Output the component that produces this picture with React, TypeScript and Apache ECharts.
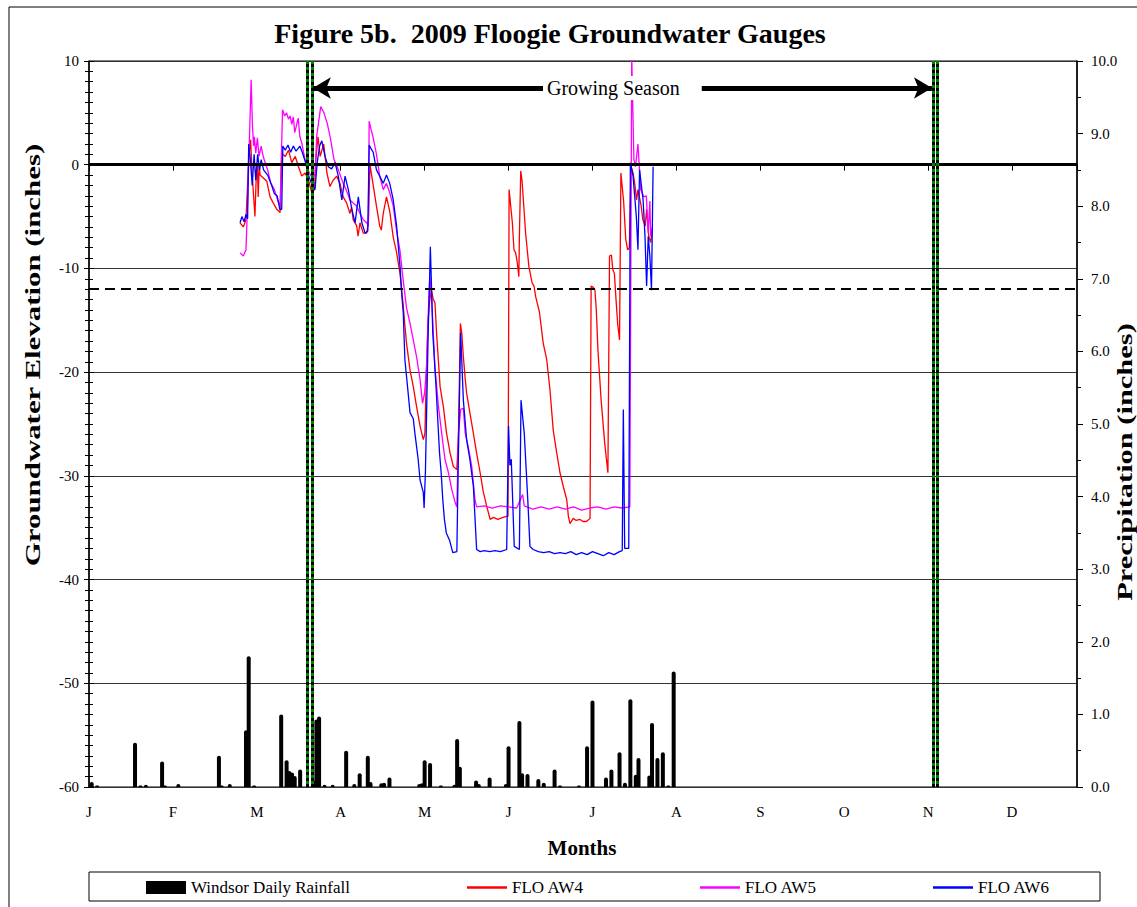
import React, { useEffect, useRef } from 'react';
import * as echarts from 'echarts';

const FONT = '"Liberation Serif", "Times New Roman", serif';

const monthLabels = ['J', 'F', 'M', 'A', 'M', 'J', 'J', 'A', 'S', 'O', 'N', 'D'];

// day of year (Jan 1 = 0) for daily rainfall, inches
const rainDays = [1, 3, 17, 19, 21, 27, 28, 33, 48, 49, 52, 58, 59, 61, 71, 73, 74, 75, 76, 78, 83, 84, 85, 87, 90, 95, 98, 100, 103, 104, 108, 109, 111, 122, 123, 124, 126, 130, 135, 136, 137, 143, 144, 148, 154, 155, 159, 160, 162, 166, 168, 172, 174, 181, 184, 186, 191, 193, 196, 198, 200, 202, 203, 207, 208, 210, 212, 214, 216];
const rainInches = [0.07, 0.02, 0.61, 0.02, 0.03, 0.35, 0.02, 0.04, 0.43, 0.02, 0.04, 0.78, 1.8, 0.02, 1.0, 0.37, 0.22, 0.2, 0.15, 0.24, 0.09, 0.93, 0.97, 0.03, 0.03, 0.5, 0.04, 0.19, 0.43, 0.07, 0.05, 0.06, 0.13, 0.04, 0.05, 0.37, 0.33, 0.02, 0.03, 0.66, 0.28, 0.09, 0.04, 0.13, 0.04, 0.56, 0.91, 0.19, 0.18, 0.11, 0.06, 0.24, 0.02, 0.02, 0.56, 1.19, 0.13, 0.24, 0.48, 0.06, 1.21, 0.17, 0.4, 0.16, 0.88, 0.4, 0.48, 0.02, 1.59];

// groundwater elevation (inches), [day of year, value]
const aw4 = [[55.8,-5.6],[57.0,-6.0],[58.0,-5.3],[59.0,0.5],[59.7,2.4],[60.3,-1.0],[61.3,-5.0],[61.8,-1.0],[62.2,0.0],[62.5,-3.1],[62.9,0.0],[63.2,-1.0],[64.5,-1.3],[65.7,-1.6],[66.9,-3.1],[68.1,-3.7],[69.4,-4.3],[70.6,-4.6],[71.2,1.1],[72.5,0.8],[73.7,1.4],[74.9,0.2],[76.2,0.8],[77.4,-0.2],[78.6,-1.1],[79.8,-0.8],[81.1,-1.5],[82.3,-2.7],[83.3,-2.4],[83.8,0.5],[84.6,2.7],[85.4,0.8],[86.7,2.0],[87.9,-0.8],[89.0,-2.1],[90.2,-1.5],[91.5,-1.1],[92.7,-1.8],[93.9,-3.1],[95.2,-3.7],[96.4,-4.7],[97.0,-4.1],[97.6,-5.3],[98.9,-5.9],[99.4,-6.9],[100.1,-5.6],[101.3,-6.6],[102.6,-6.6],[103.2,-5.6],[103.8,0.0],[105.0,-2.0],[106.2,-4.0],[107.4,-5.9],[108.0,-6.3],[108.7,-4.7],[109.9,-3.1],[111.1,-4.5],[112.4,-7.0],[113.6,-8.4],[114.9,-10.5],[116.1,-13.6],[116.7,-15.5],[117.3,-17.2],[118.6,-19.8],[119.8,-21.4],[121.0,-23.3],[122.3,-25.2],[123.5,-26.5],[124.1,-25.9],[124.7,-19.5],[125.3,-14.9],[125.9,-13.0],[126.5,-12.1],[127.2,-13.0],[127.8,-13.3],[128.4,-16.2],[129.7,-21.4],[130.9,-23.3],[132.1,-25.9],[133.4,-27.8],[134.6,-29.1],[135.9,-29.4],[136.5,-25.9],[137.2,-15.3],[137.7,-16.2],[138.3,-18.5],[139.0,-20.7],[139.5,-22.0],[140.7,-23.9],[142.0,-25.9],[143.2,-27.8],[144.5,-29.7],[145.7,-31.6],[146.9,-32.9],[148.2,-34.2],[149.4,-34.0],[151.0,-34.2],[153.0,-34.0],[154.3,-33.9],[154.8,-33.9],[155.2,-2.4],[156.4,-5.6],[157.0,-8.2],[157.6,-8.5],[158.2,-9.4],[158.8,-10.8],[159.0,-6.9],[159.5,-0.6],[160.0,-1.6],[160.7,-4.3],[161.3,-6.6],[161.9,-8.2],[162.5,-9.8],[163.7,-11.4],[164.4,-11.7],[165.0,-12.7],[166.4,-14.2],[167.8,-17.2],[169.1,-18.8],[170.3,-21.7],[171.5,-25.6],[172.8,-27.8],[174.0,-29.7],[175.2,-31.0],[176.5,-32.3],[177.1,-33.9],[177.7,-34.6],[178.9,-34.1],[180.0,-34.3],[181.4,-34.2],[182.5,-34.4],[183.8,-34.4],[185.1,-34.1],[185.5,-11.7],[186.2,-11.8],[186.9,-12.1],[187.4,-13.9],[188.0,-17.8],[189.2,-22.7],[190.5,-26.8],[191.7,-29.7],[192.3,-8.8],[193.0,-8.7],[193.5,-10.1],[194.1,-10.5],[194.7,-13.0],[195.3,-15.3],[196.0,-16.9],[196.5,-0.8],[197.5,-3.5],[198.3,-7.2],[199.0,-8.2],[199.6,-8.0],[200.3,-0.2],[201.0,-0.8],[201.6,-1.8],[202.3,-3.4],[202.8,-2.4],[204.0,-4.0],[204.6,-5.3],[205.5,-5.9],[206.0,-4.3],[206.8,-6.9],[207.5,-7.5],[208.0,-6.5]];

const aw5 = [[55.8,-8.5],[57.0,-8.8],[58.0,-8.2],[58.5,-4.3],[59.2,1.8],[59.9,8.2],[60.4,3.7],[60.8,1.8],[61.1,2.7],[61.6,1.1],[62.2,2.6],[62.8,0.8],[63.6,1.8],[64.1,1.1],[64.7,0.5],[66.0,-0.5],[67.2,-1.8],[68.5,-2.4],[69.7,-3.4],[70.6,-4.0],[71.5,5.3],[72.3,4.7],[73.0,5.0],[73.7,4.4],[74.3,4.7],[74.9,3.9],[75.5,4.6],[76.0,3.1],[77.3,4.5],[77.9,2.7],[78.6,2.1],[79.8,0.5],[81.0,-0.6],[82.3,-1.2],[83.5,-1.0],[84.1,2.7],[85.6,5.6],[86.8,5.0],[88.0,4.0],[89.3,2.4],[90.5,0.5],[91.7,-0.2],[93.9,-1.8],[95.0,-2.4],[96.4,-3.4],[97.6,-3.7],[98.9,-4.0],[100.1,-4.7],[101.3,-5.3],[102.6,-5.6],[103.2,-5.9],[103.5,4.2],[104.2,3.4],[104.9,2.7],[106.2,1.0],[107.4,-1.1],[108.7,-2.4],[109.9,-1.8],[111.1,-2.7],[112.4,-4.0],[113.6,-6.3],[114.9,-8.3],[116.1,-11.2],[117.3,-13.8],[118.6,-15.3],[119.8,-16.9],[121.0,-18.5],[122.3,-20.7],[123.2,-23.0],[124.0,-22.0],[124.7,-19.5],[125.3,-14.6],[125.9,-10.8],[126.6,-13.0],[127.8,-19.5],[129.1,-23.3],[130.3,-25.9],[131.5,-28.4],[132.8,-29.7],[134.0,-31.3],[135.3,-32.6],[135.9,-33.0],[136.5,-25.9],[137.3,-23.6],[138.3,-23.5],[139.0,-25.9],[140.1,-27.2],[141.4,-29.1],[142.6,-32.3],[143.2,-33.0],[146.0,-32.9],[149.0,-33.1],[152.0,-32.9],[155.0,-33.0],[158.0,-33.1],[160.2,-31.8],[160.8,-32.9],[164.0,-33.2],[167.0,-33.0],[170.0,-33.2],[173.0,-33.0],[176.0,-33.2],[179.0,-33.0],[182.0,-33.3],[185.0,-33.1],[188.0,-33.0],[191.0,-33.2],[194.0,-33.0],[197.0,-33.1],[199.8,-33.0],[200.5,10.5],[201.3,0.5],[201.9,-0.2],[202.3,0.8],[202.8,2.0],[203.8,-2.4],[205.0,-3.1],[205.9,-3.0],[206.6,-6.6],[207.2,-3.5],[207.5,-6.9],[208.2,-6.0]];

const aw6 = [[55.8,-5.6],[56.5,-5.0],[57.3,-5.5],[58.0,-4.8],[58.6,-5.2],[59.0,2.0],[59.6,0.5],[60.3,-2.0],[61.0,1.0],[61.6,-1.5],[62.3,1.0],[63.0,-0.5],[63.6,0.5],[64.5,-0.5],[66.0,-1.0],[67.5,-2.0],[68.5,-2.8],[69.5,-3.0],[70.5,-4.3],[71.2,-4.3],[71.6,1.8],[72.5,1.4],[73.5,1.9],[74.5,1.2],[75.5,1.8],[76.5,1.3],[77.9,1.8],[78.8,1.2],[80.0,0.2],[81.2,-1.1],[82.6,-2.1],[83.5,-2.4],[84.3,0.2],[85.2,1.8],[86.0,2.3],[87.2,0.8],[88.4,-0.2],[89.6,-0.4],[90.9,0.2],[92.1,-1.1],[93.4,-3.4],[94.6,-1.1],[95.8,-2.4],[97.1,-4.3],[98.3,-5.6],[99.5,-3.1],[100.8,-5.6],[102.0,-6.6],[103.0,-6.4],[103.5,1.9],[104.3,1.5],[105.0,1.2],[106.2,-0.5],[107.4,-1.1],[108.7,-1.8],[109.9,-1.0],[111.1,-1.8],[112.4,-3.4],[113.6,-5.8],[114.9,-9.8],[115.5,-12.4],[116.1,-14.3],[116.7,-18.8],[117.3,-20.4],[118.6,-23.9],[119.8,-24.5],[120.4,-25.9],[121.6,-28.4],[122.3,-30.4],[123.5,-31.6],[123.8,-33.1],[124.3,-29.5],[125.3,-16.2],[125.8,-11.4],[126.1,-7.9],[126.6,-12.4],[127.0,-16.2],[128.2,-21.4],[129.5,-27.8],[130.1,-29.7],[130.7,-32.3],[131.3,-34.2],[132.0,-35.5],[133.2,-36.2],[134.4,-37.4],[135.9,-37.3],[136.4,-29.0],[137.3,-16.2],[138.3,-22.7],[139.5,-26.5],[140.7,-28.4],[142.0,-31.0],[143.2,-37.1],[144.5,-37.3],[146.0,-37.2],[148.0,-37.3],[150.0,-37.2],[152.0,-37.3],[154.3,-37.1],[155.0,-25.2],[155.5,-29.0],[156.0,-28.4],[157.1,-36.8],[159.0,-37.1],[159.6,-22.7],[160.8,-25.9],[162.1,-32.3],[162.9,-36.8],[164.1,-37.1],[166.0,-37.3],[168.0,-37.4],[170.0,-37.3],[172.0,-37.5],[174.0,-37.4],[176.0,-37.5],[178.0,-37.3],[180.0,-37.6],[182.0,-37.4],[184.0,-37.6],[186.0,-37.3],[188.0,-37.5],[190.0,-37.7],[192.0,-37.4],[194.0,-37.6],[196.0,-37.3],[197.0,-37.2],[197.4,-23.6],[197.9,-37.0],[199.4,-37.0],[200.0,0.2],[201.0,-1.1],[202.2,-5.0],[202.8,-8.2],[203.4,-0.5],[204.7,-3.4],[205.4,-6.9],[206.0,-11.7],[206.6,-6.9],[207.2,-8.8],[207.8,-12.1],[208.4,-0.2]];

// reference levels (inches) and growing season boundaries (day of year)
const surfaceLevel = 0;
const criticalLevel = -12;
const seasonLines = [80.8, 82.3, 311.8, 313.3];
const arrowStart = 82.7;
const arrowEnd = 311.4;
const arrowLevel = 7.4;

export default function App() {
  const ref = useRef<HTMLDivElement>(null);
  useEffect(() => {
    if (!ref.current) return;
    const chart = echarts.init(ref.current, undefined, { renderer: 'svg' });
    const tickLabel = { fontFamily: FONT, fontSize: 15, color: '#000' };
    const legendText = { fontFamily: FONT, fontSize: 17, color: '#000' };
    const lineSeries = (name: string, data: number[][], color: string) => ({
      name,
      type: 'line',
      data,
      symbol: 'none',
      showSymbol: false,
      lineStyle: { color, width: 1.3 },
      itemStyle: { color },
      z: 3,
    });
    const legendBase = {
      top: 879,
      itemWidth: 40,
      itemHeight: 13,
      padding: 0,
      selectedMode: false,
      textStyle: legendText,
    };
    const axisNameStyle = {
      font: `bold 21px ${FONT}`,
      fill: '#000',
      align: 'center',
      verticalAlign: 'middle',
      textAlign: 'center',
      textVerticalAlign: 'middle',
    };
    chart.setOption({
      animation: false,
      backgroundColor: '#fff',
      grid: {
        left: 89,
        right: 60,
        top: 61,
        bottom: 120,
        show: true,
        borderColor: '#000',
        borderWidth: 1,
        backgroundColor: 'transparent',
      },
      xAxis: {
        type: 'value',
        min: 0,
        max: 365,
        interval: 31,
        axisLine: { lineStyle: { color: '#000', width: 1.5 } },
        axisTick: { show: true, length: 6, lineStyle: { color: '#000' } },
        axisLabel: {
          ...tickLabel,
          margin: 17,
          formatter: (v: number) => (v % 31 === 0 && monthLabels[v / 31] ? monthLabels[v / 31] : ''),
        },
        splitLine: { show: false },
      },
      yAxis: [
        {
          type: 'value',
          min: -60,
          max: 10,
          interval: 10,
          position: 'left',
          axisLine: { show: true, lineStyle: { color: '#000', width: 1.5 } },
          axisTick: { show: true, length: 5, lineStyle: { color: '#000' } },
          minorTick: { show: true, splitNumber: 10, length: 4, lineStyle: { color: '#000' } },
          axisLabel: { ...tickLabel, margin: 10 },
          splitLine: { show: true, lineStyle: { color: '#333', width: 1 } },
        },
        {
          type: 'value',
          min: 0,
          max: 10,
          interval: 1,
          position: 'right',
          axisLine: { show: true, lineStyle: { color: '#000', width: 1.5 } },
          axisTick: { show: true, length: 6, lineStyle: { color: '#000' } },
          minorTick: { show: true, splitNumber: 2, length: 4, lineStyle: { color: '#000' } },
          axisLabel: { ...tickLabel, margin: 14, formatter: (v: number) => v.toFixed(1) },
          splitLine: { show: false },
        },
        {
          type: 'value',
          min: -60,
          max: 10,
          interval: 10,
          position: 'left',
          axisLine: { show: false },
          axisTick: { show: true, inside: true, length: 5, lineStyle: { color: '#000' } },
          minorTick: { show: true, splitNumber: 10, length: 4, lineStyle: { color: '#000' } },
          axisLabel: { show: false },
          splitLine: { show: false },
        },
      ],
      legend: [
        { ...legendBase, left: 146, data: [{ name: 'Windsor Daily Rainfall', icon: 'rect' }] },
        { ...legendBase, left: 467, itemHeight: 2.5, data: [{ name: 'FLO AW4', icon: 'rect' }] },
        { ...legendBase, left: 700, itemHeight: 2.5, data: [{ name: 'FLO AW5', icon: 'rect' }] },
        { ...legendBase, left: 933, itemHeight: 2.5, data: [{ name: 'FLO AW6', icon: 'rect' }] },
      ],
      series: [
        {
          name: 'Windsor Daily Rainfall',
          type: 'bar',
          yAxisIndex: 1,
          barWidth: 4,
          data: rainDays.map((d, i) => [d, rainInches[i]]),
          itemStyle: { color: '#000', borderRadius: [2, 2, 0, 0] },
          z: 2,
        },
        lineSeries('FLO AW4', aw4, '#ff0000'),
        lineSeries('FLO AW5', aw5, '#ff00ff'),
        lineSeries('FLO AW6', aw6, '#0000ff'),
        {
          name: 'refLines',
          type: 'line',
          data: [],
          z: 5,
          markLine: {
            silent: true,
            symbol: 'none',
            label: { show: false },
            data: [
              { yAxis: surfaceLevel, lineStyle: { color: '#000', width: 3, type: 'solid' } },
              { yAxis: criticalLevel, lineStyle: { color: '#000', width: 2, type: [10, 6] } },
            ],
          },
        },
        {
          name: 'season',
          type: 'line',
          data: [],
          z: 6,
          markLine: {
            silent: true,
            symbol: 'none',
            label: { show: false },
            data: [
              ...seasonLines.map((x) => ({ xAxis: x, lineStyle: { color: '#008000', width: 3, type: 'solid' } })),
              ...seasonLines.map((x) => ({ xAxis: x, lineStyle: { color: '#000', width: 3, type: [3, 3] } })),
            ],
          },
        },
        {
          name: 'arrow',
          type: 'line',
          data: [],
          z: 2,
          markLine: {
            silent: true,
            symbol: ['arrow', 'arrow'],
            symbolSize: [16, 18],
            lineStyle: { color: '#000', width: 5, type: 'solid' },
            label: {
              show: true,
              position: 'middle',
              distance: 0,
              verticalAlign: 'middle',
              formatter: 'Growing Season',
              color: '#000',
              fontFamily: FONT,
              fontSize: 20,
              backgroundColor: '#fff',
              padding: [2, 22, 2, 4],
            },
            data: [[{ coord: [arrowStart, arrowLevel] }, { coord: [arrowEnd, arrowLevel] }]],
          },
        },
      ],
      graphic: [
        {
          type: 'rect',
          silent: true,
          shape: { x: 9, y: 7, width: 1300, height: 1000 },
          style: { fill: 'none', stroke: '#000', lineWidth: 1 },
        },
        {
          type: 'rect',
          silent: true,
          shape: { x: 89, y: 872, width: 1011, height: 29 },
          style: { fill: 'none', stroke: '#000', lineWidth: 1 },
        },
        {
          type: 'text',
          silent: true,
          x: 550,
          y: 33,
          style: { ...axisNameStyle, text: 'Figure 5b.  2009 Floogie Groundwater Gauges', font: `bold 28px ${FONT}` },
        },
        {
          type: 'text',
          silent: true,
          x: 33,
          y: 355,
          rotation: Math.PI / 2,
          scaleX: 1.47,
          style: { ...axisNameStyle, text: 'Groundwater Elevation (inches)' },
        },
        {
          type: 'text',
          silent: true,
          x: 1125,
          y: 462,
          rotation: Math.PI / 2,
          scaleX: 1.45,
          style: { ...axisNameStyle, text: 'Precipitation (inches)' },
        },
        {
          type: 'text',
          silent: true,
          x: 582,
          y: 848,
          style: { ...axisNameStyle, text: 'Months' },
        },
      ],
    });
    return () => chart.dispose();
  }, []);
  return (
    <div
      ref={ref}
      style={{ position: 'absolute', left: 0, top: 0, width: 1137, height: 907 }}
    />
  );
}
